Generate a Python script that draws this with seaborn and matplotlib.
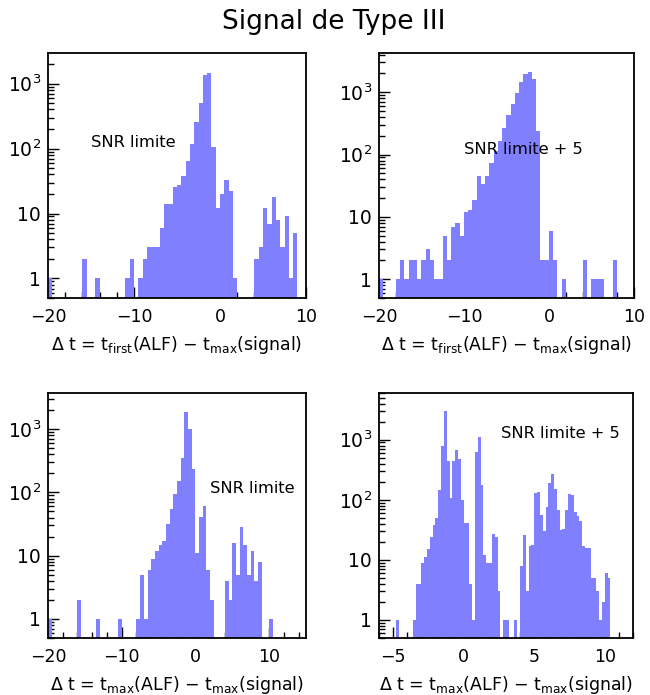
import numpy as np
import pandas as pd
import matplotlib
matplotlib.use("Agg")
import matplotlib.pyplot as plt
import seaborn as sns
from matplotlib.ticker import MultipleLocator, LogLocator, FuncFormatter, NullFormatter

# ---------------- data ----------------
title = "Signal de Type III"
xlabel_first = r"$\Delta$ t = t$_{\rm first}$(ALF) $-$ t$_{\rm max}$(signal)"
xlabel_max = r"$\Delta$ t = t$_{\rm max}$(ALF) $-$ t$_{\rm max}$(signal)"
notes = ["SNR limite", "SNR limite + 5", "SNR limite", "SNR limite + 5"]

# panel 1 : t_first, SNR limite  (bins of 0.5 from -20 to 10, left edges)
p1_left = [-20, -16, -14.5, -11, -10.5, -9.5, -9, -8.5, -8, -7.5, -7, -6.5, -6,
           -5.5, -5, -4.5, -4, -3.5, -3, -2.5, -2, -1.5, -1, -0.5, 0, 0.5, 1,
           1.5, 4, 4.5, 5, 5.5, 6, 6.5, 7, 7.5, 8, 8.5]
p1_count = [1, 2, 1, 1, 2, 1, 2, 3, 3, 3, 6, 14, 14,
            26, 27, 38, 64, 118, 254, 500, 1380, 1480, 107, 12, 20, 33, 22,
            1, 2, 3, 12, 7, 18, 8, 3, 9, 1, 5]

# panel 2 : t_first, SNR limite + 5
p2_left = [-20, -18, -17.5, -17, -16.5, -16, -15.5, -15, -14.5, -14, -13.5, -13,
           -12.5, -12, -11.5, -11, -10.5, -10, -9.5, -9, -8.5, -8, -7.5, -7,
           -6.5, -6, -5.5, -5, -4.5, -4, -3.5, -3, -2.5, -2, -1.5, -1, -0.5,
           0, 0.5, 1.5, 4, 5, 5.5, 6, 7.5]
p2_count = [1, 1, 2, 1, 2, 2, 1, 2, 3, 2, 1, 1,
            5, 2, 7, 8, 5, 12, 13, 19, 45, 34, 46, 73,
            116, 168, 264, 437, 647, 985, 1475, 1950, 2130, 1620, 242, 2, 2,
            6, 2, 1, 2, 1, 1, 1, 2]

# panel 3 : t_max, SNR limite  (bins of 0.5 from -20 to 15)
p3_left = [-20, -16, -13.5, -10.5, -8, -7.5, -7, -6.5, -6, -5.5, -5, -4.5, -4,
           -3.5, -3, -2.5, -2, -1.5, -1, -0.5, 0, 0.5, 1, 1.5, 2, 4, 4.5, 5,
           5.5, 6, 6.5, 7, 7.5, 8, 8.5, 10]
p3_count = [1, 2, 1, 1, 1, 5, 1, 6, 9, 12, 15, 17, 32,
            55, 94, 152, 351, 1860, 1020, 230, 11, 41, 62, 6, 2, 4, 2, 16,
            5, 28, 15, 5, 12, 4, 8, 1]

# panel 4 : t_max, SNR limite + 5  (bins of 0.2 from -6 to 12)
p4_left = [-4.8, -3.6, -3.4, -3.2, -3.0, -2.8, -2.6, -2.4, -2.2, -2.0,
           -1.8, -1.6, -1.4, -1.2, -1.0, -0.8, -0.6, -0.4, -0.2, 0.0,
           0.2, 0.4, 0.6, 0.8, 1.0, 1.2, 1.4, 1.6, 1.8, 2.0,
           2.2, 2.4, 2.8, 3.0, 3.6, 4.0, 4.2, 4.4, 4.6, 4.8,
           5.0, 5.2, 5.4, 5.6, 5.8, 6.0, 6.2, 6.4, 6.6, 6.8,
           7.0, 7.2, 7.4, 7.6, 7.8, 8.0, 8.2, 8.4, 8.6, 8.8,
           9.0, 9.2, 9.4, 9.6, 9.8, 10.0, 10.2]
p4_count = [1, 1, 4, 4, 9, 11, 15, 24, 38, 50,
            144, 790, 3000, 437, 107, 437, 680, 480, 98, 41,
            41, 4, 1, 620, 1100, 175, 12, 9, 9, 27,
            24, 3, 1, 1, 1, 8, 26, 3, 17, 18,
            130, 135, 55, 30, 76, 190, 270, 150, 67, 31,
            33, 67, 126, 119, 63, 53, 45, 17, 16, 16,
            5, 5, 3, 1, 2, 6, 5]

# ---------------- style ----------------
sns.set_style("white")
plt.rcParams["font.family"] = ["DejaVu Sans"]
plt.rcParams["mathtext.default"] = "regular"
for k in ["text.color", "axes.labelcolor", "xtick.color", "ytick.color"]:
    plt.rcParams[k] = "black"
BAR = "#8080ff"

fig = plt.figure(figsize=(6.5, 6.95), dpi=100)
W, H = 650.0, 695.0


def axes_at(x0, y0, x1, y1):
    return fig.add_axes([x0 / W, 1 - y1 / H, (x1 - x0) / W, (y1 - y0) / H])


def yfmt(v, _):
    if v <= 0:
        return ""
    e = int(round(np.log10(v)))
    if abs(v - 10 ** e) > 1e-6 * v:
        return ""
    if e == 0:
        return "1"
    if e == 1:
        return "10"
    return r"$10^{%d}$" % e


def panel(ax, left, count, width, lo, hi, ylim, xmaj, xmin, xlabel, note, note_pos):
    df = pd.DataFrame({"t": np.asarray(left, float) + width / 2.0, "n": count})
    sns.histplot(data=df, x="t", weights="n", binwidth=width, binrange=(lo, hi),
                 ax=ax, color=BAR, alpha=1.0, linewidth=0, edgecolor=BAR,
                 element="bars")
    ax.set_yscale("log")
    ax.set_xlim(lo, hi)
    ax.set_ylim(*ylim)
    ax.xaxis.set_major_locator(MultipleLocator(xmaj))
    ax.xaxis.set_minor_locator(MultipleLocator(xmin))
    ax.yaxis.set_major_locator(LogLocator(base=10, numticks=12))
    ax.yaxis.set_minor_locator(LogLocator(base=10, subs=np.arange(2, 10), numticks=40))
    ax.yaxis.set_major_formatter(FuncFormatter(yfmt))
    ax.yaxis.set_minor_formatter(NullFormatter())
    ax.tick_params(which="both", direction="in", bottom=True, left=True,
                   top=False, right=False, width=1.0, color="black",
                   labelcolor="black")
    ax.tick_params(axis="x", which="major", length=8, pad=7, labelsize=12.5)
    ax.tick_params(axis="y", which="major", length=8, pad=5, labelsize=13.5)
    ax.tick_params(which="minor", length=4)
    for s in ax.spines.values():
        s.set_linewidth(1.3)
        s.set_color("black")
    ax.set_ylabel("")
    ax.set_xlabel(xlabel, fontsize=12.5, labelpad=6)
    ax.text(note_pos[0], note_pos[1], note, transform=ax.transAxes,
            ha="left", va="center", fontsize=11.7)


ax1 = axes_at(48, 53, 306, 298)
panel(ax1, p1_left, p1_count, 0.5, -20, 10, (0.5, 2960),
      10, 2, xlabel_first, notes[0], (0.165, 0.633))

ax2 = axes_at(379, 53, 634, 298)
panel(ax2, p2_left, p2_count, 0.5, -20, 10, (0.5, 4260),
      10, 2, xlabel_first, notes[1], (0.335, 0.608))

ax3 = axes_at(48, 393, 306, 638)
panel(ax3, p3_left, p3_count, 0.5, -20, 15, (0.5, 3720),
      10, 2, xlabel_max, notes[2], (0.627, 0.612))

ax4 = axes_at(379, 393, 633, 638)
panel(ax4, p4_left, p4_count, 0.2, -6, 12, (0.5, 6000),
      5, 1, xlabel_max, notes[3], (0.48, 0.833))

fig.text(334 / W, 1 - 22 / H, title, ha="center", va="center", fontsize=19)

fig.savefig("out.png", dpi=100, facecolor="white")
